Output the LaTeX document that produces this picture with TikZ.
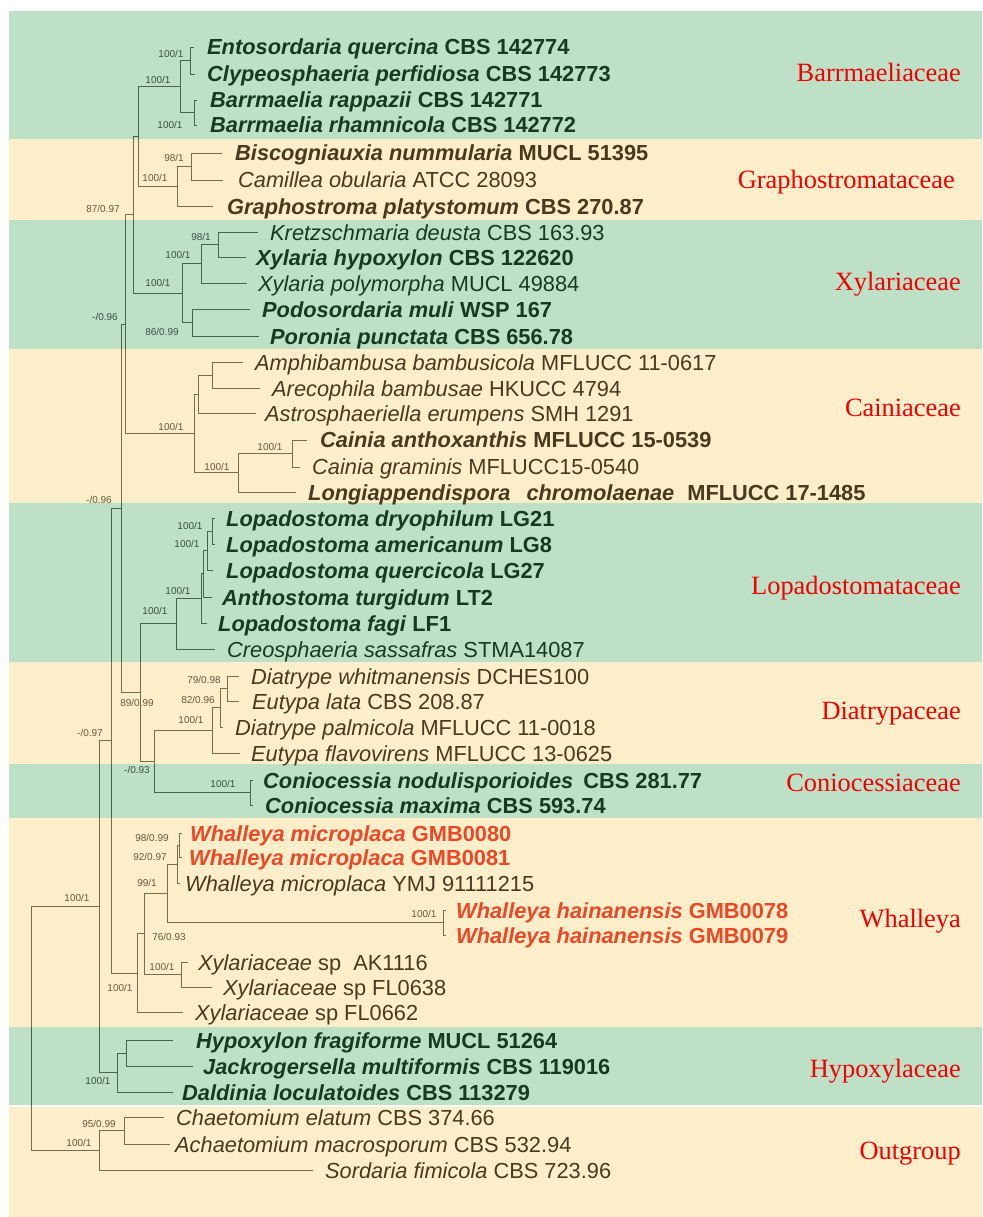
\documentclass[tikz,border=0pt]{standalone}
\usepackage{fontspec}
\setmainfont{Liberation Sans}
\newfontfamily\famfont{Liberation Serif}
\definecolor{bandgreen}{RGB}{190,224,198}
\definecolor{bandyellow}{RGB}{254,238,202}
\definecolor{linegreen}{RGB}{70,100,78}
\definecolor{lineyellow}{RGB}{125,108,75}
\definecolor{txtgreen}{RGB}{22,58,32}
\definecolor{txtyellow}{RGB}{72,58,28}
\definecolor{supgreen}{RGB}{55,80,62}
\definecolor{supyellow}{RGB}{100,88,62}
\definecolor{newred}{RGB}{236,72,38}
\definecolor{famred}{RGB}{240,0,0}
\newcommand{\bnm}[2]{\textbf{\textit{#1} #2}}
\newcommand{\rnm}[2]{\textit{#1} #2}
\newcommand{\edgelist}{n1/e1,n1/e2,n2/e3,n2/e4,nBarr/n1,nBarr/n2,n3/e5,n3/e6,nGraph/n3,nGraph/e7,nBG/nBarr,nBG/nGraph,
n4/e8,n4/e9,n5/n4,n5/e10,n6/e11,n6/e12,nXyl/n5,nXyl/n6,nA/nBG,nA/nXyl,
n7/e13,n7/e14,n8/n7,n8/e15,n9/e16,n9/e17,n10/n9,n10/e18,nCain/n8,nCain/n10,nB/nA,nB/nCain,
lp5/e19,lp5/e20,lp4/lp5,lp4/e21,lp3/lp4,lp3/e22,lp2/lp3,lp2/e23,lp1/lp2,lp1/e24,
d1/e25,d1/e26,d2/d1,d2/e27,d3/d2,d3/e28,c1/e29,c1/e30,nE/d3,nE/c1,nD/lp1,nD/nE,nC/nB,nC/nD,
w1/e31,w1/e32,w2/w1,w2/e33,h1/e34,h1/e35,w3/w2,w3/h1,x1/e36,x1/e37,w4/w3,w4/x1,w5/w4,w5/e38,nF/nC,nF/w5,
hy1/e39,hy1/e40,hy2/hy1,hy2/e41,nG/nF,nG/hy2,
o1/e42,o1/e43,o2/o1,o2/e44,root/nG,root/o2}
\begin{document}
\begin{tikzpicture}[x=1pt,y=-1pt,
  taxon/.style={anchor=base west, inner sep=0pt, font=\fontsize{21.8}{26}\selectfont},
  taxG/.style={taxon, text=txtgreen},
  taxY/.style={taxon, text=txtyellow},
  taxR/.style={taxon, text=newred},
  sup/.style={inner sep=0pt, font=\fontsize{10}{12}\selectfont},
  supG/.style={sup, text=supgreen},
  supY/.style={sup, text=supyellow},
  fam/.style={anchor=base east, inner sep=0pt, text=famred, font=\famfont\fontsize{26.4}{30}\selectfont},
  edge/.style={line width=0.9pt}]
\useasboundingbox (0,0) rectangle (982,1217);
\fill[white] (0,0) rectangle (982,1217);
% bands
\fill[bandgreen]  (9,11)   rectangle (982,139);
\fill[bandyellow] (9,139)  rectangle (982,220);
\fill[bandgreen]  (9,220)  rectangle (982,349);
\fill[bandyellow] (9,349)  rectangle (982,503);
\fill[bandgreen]  (9,503)  rectangle (982,662);
\fill[bandyellow] (9,662)  rectangle (982,764);
\fill[bandgreen]  (9,764)  rectangle (982,818);
\fill[bandyellow] (9,818)  rectangle (982,1027);
\fill[bandgreen]  (9,1027) rectangle (982,1106);
\fill[bandyellow] (9,1106) rectangle (982,1217);
\draw[white, line width=1.2pt] (9,1106) -- (982,1106);

% internal nodes
\coordinate (n1) at (190,60.5);
\coordinate (n2) at (194,112.5);
\coordinate (nBarr) at (180,86.5);
\coordinate (n3) at (191,166.5);
\coordinate (nGraph) at (177,186.25);
\coordinate (nBG) at (138,136.4);
\coordinate (n4) at (218,244.5);
\coordinate (n5) at (201,263.75);
\coordinate (n6) at (192,322.5);
\coordinate (nXyl) at (182,293.1);
\coordinate (nA) at (133,214.8);
\coordinate (n7) at (212,375);
\coordinate (n8) at (198,394);
\coordinate (n9) at (292,453.5);
\coordinate (n10) at (238,472.75);
\coordinate (nCain) at (194,433.4);
\coordinate (nB) at (125,324.1);
\coordinate (lp5) at (212,531);
\coordinate (lp4) at (207,550.5);
\coordinate (lp3) at (203,573.75);
\coordinate (lp2) at (201,598.4);
\coordinate (lp1) at (176,623.7);
\coordinate (d1) at (227,688.5);
\coordinate (d2) at (220,707.75);
\coordinate (d3) at (212,730.4);
\coordinate (c1) at (250,792.5);
\coordinate (nE) at (154,761.4);
\coordinate (nD) at (140,692.6);
\coordinate (nC) at (121,508.3);
\coordinate (w1) at (179,845);
\coordinate (w2) at (177,864);
\coordinate (h1) at (443,922.5);
\coordinate (w3) at (167,893.25);
\coordinate (x1) at (181,974.5);
\coordinate (w4) at (144,933.9);
\coordinate (w5) at (137,973);
\coordinate (nF) at (111,740.6);
\coordinate (hy1) at (126,1053);
\coordinate (hy2) at (117,1072.5);
\coordinate (nG) at (99,906.6);
\coordinate (o1) at (124,1130.5);
\coordinate (o2) at (99,1150.25);
\coordinate (root) at (31,1028.4);

% leaf ends
\coordinate (e1) at (194,47);   \coordinate (e2) at (195,74);
\coordinate (e3) at (197,100);  \coordinate (e4) at (197,125);
\coordinate (e5) at (222,153);  \coordinate (e6) at (223,180);
\coordinate (e7) at (213,206);  \coordinate (e8) at (258,232);
\coordinate (e9) at (246,257);  \coordinate (e10) at (247,283);
\coordinate (e11) at (250,309); \coordinate (e12) at (259,336);
\coordinate (e13) at (243,362); \coordinate (e14) at (260,388);
\coordinate (e15) at (256,413); \coordinate (e16) at (307,440);
\coordinate (e17) at (300,467); \coordinate (e18) at (296,492);
\coordinate (e19) at (215,518); \coordinate (e20) at (215,544);
\coordinate (e21) at (213,570); \coordinate (e22) at (212,597);
\coordinate (e23) at (207,623); \coordinate (e24) at (215,649);
\coordinate (e25) at (239,676); \coordinate (e26) at (239,701);
\coordinate (e27) at (223,727); \coordinate (e28) at (240,753);
\coordinate (e29) at (253,780); \coordinate (e30) at (253,805);
\coordinate (e31) at (182,833); \coordinate (e32) at (182,857);
\coordinate (e33) at (180,883); \coordinate (e34) at (446,910);
\coordinate (e35) at (446,935); \coordinate (e36) at (188,962);
\coordinate (e37) at (212,987); \coordinate (e38) at (183,1012);
\coordinate (e39) at (173,1040); \coordinate (e40) at (193,1066);
\coordinate (e41) at (173,1092); \coordinate (e42) at (164,1117);
\coordinate (e43) at (170,1144); \coordinate (e44) at (313,1170);

% tree edges, coloured by band
\begin{scope}
  \clip (9,11) rectangle (982,139) (9,220) rectangle (982,349) (9,503) rectangle (982,662)
        (9,764) rectangle (982,818) (9,1027) rectangle (982,1106);
  \foreach \p/\c in \edgelist { \draw[edge, linegreen] (\p) |- (\c); }
\end{scope}
\begin{scope}
  \clip (9,139) rectangle (982,220) (9,349) rectangle (982,503) (9,662) rectangle (982,764)
        (9,818) rectangle (982,1027) (9,1106) rectangle (982,1217);
  \foreach \p/\c in \edgelist { \draw[edge, lineyellow] (\p) |- (\c); }
\end{scope}

% taxa
\node[taxG] (t1) at (207,55) {\bnm{Entosordaria quercina}{CBS 142774}};
\node[taxG] (t2) at (207,82) {\bnm{Clypeosphaeria perfidiosa}{CBS 142773}};
\node[taxG] (t3) at (210,108) {\bnm{Barrmaelia rappazii}{CBS 142771}};
\node[taxG] (t4) at (210,133) {\bnm{Barrmaelia rhamnicola}{CBS 142772}};
\node[taxY] (t5) at (235,161) {\bnm{Biscogniauxia nummularia}{MUCL 51395}};
\node[taxY] (t6) at (238,188) {\rnm{Camillea obularia}{ATCC 28093}};
\node[taxY] (t7) at (227,214) {\bnm{Graphostroma platystomum}{CBS 270.87}};
\node[taxG] (t8) at (270,240) {\rnm{Kretzschmaria deusta}{CBS 163.93}};
\node[taxG] (t9) at (256,265) {\bnm{Xylaria hypoxylon}{CBS 122620}};
\node[taxG] (t10) at (258,291) {\rnm{Xylaria polymorpha}{MUCL 49884}};
\node[taxG] (t11) at (262,317) {\bnm{Podosordaria muli}{WSP 167}};
\node[taxG] (t12) at (270,344) {\bnm{Poronia punctata}{CBS 656.78}};
\node[taxY] (t13) at (255,370) {\rnm{Amphibambusa bambusicola}{MFLUCC 11-0617}};
\node[taxY] (t14) at (272,396) {\rnm{Arecophila bambusae}{HKUCC 4794}};
\node[taxY] (t15) at (265,421) {\rnm{Astrosphaeriella erumpens}{SMH 1291}};
\node[taxY] (t16) at (320,447) {\bnm{Cainia anthoxanthis}{MFLUCC 15-0539}};
\node[taxY] (t17) at (312,474) {\rnm{Cainia graminis}{MFLUCC15-0540}};
\node[taxY] (t18) at (308,500) {\textbf{\textit{Longiappendispora\hspace{10pt} chromolaenae}\hspace{7pt} MFLUCC 17-1485}};
\node[taxG] (t19) at (226,526) {\bnm{Lopadostoma dryophilum}{LG21}};
\node[taxG] (t20) at (226,552) {\bnm{Lopadostoma americanum}{LG8}};
\node[taxG] (t21) at (226,578) {\bnm{Lopadostoma quercicola}{LG27}};
\node[taxG] (t22) at (222,605) {\bnm{Anthostoma turgidum}{LT2}};
\node[taxG] (t23) at (218,631) {\bnm{Lopadostoma fagi}{LF1}};
\node[taxG] (t24) at (227,657) {\rnm{Creosphaeria sassafras}{STMA14087}};
\node[taxY] (t25) at (251,684) {\rnm{Diatrype whitmanensis}{DCHES100}};
\node[taxY] (t26) at (252,709) {\rnm{Eutypa lata}{CBS 208.87}};
\node[taxY] (t27) at (235,735) {\rnm{Diatrype palmicola}{MFLUCC 11-0018}};
\node[taxY] (t28) at (251,761) {\rnm{Eutypa flavovirens}{MFLUCC 13-0625}};
\node[taxG] (t29) at (263,788) {\textbf{\textit{Coniocessia nodulisporioides}\hspace{4pt} CBS 281.77}};
\node[taxG] (t30) at (265,813) {\bnm{Coniocessia maxima}{CBS 593.74}};
\node[taxR] (t31) at (190,841) {\bnm{Whalleya microplaca}{GMB0080}};
\node[taxR] (t32) at (189,865) {\bnm{Whalleya microplaca}{GMB0081}};
\node[taxY] (t33) at (185,891) {\rnm{Whalleya microplaca}{YMJ 91111215}};
\node[taxR] (t34) at (456,918) {\bnm{Whalleya hainanensis}{GMB0078}};
\node[taxR] (t35) at (456,943) {\bnm{Whalleya hainanensis}{GMB0079}};
\node[taxY] (t36) at (198,970) {\rnm{Xylariaceae}{sp\ \ AK1116}};
\node[taxY] (t37) at (223,995) {\rnm{Xylariaceae}{sp FL0638}};
\node[taxY] (t38) at (195,1020) {\rnm{Xylariaceae}{sp FL0662}};
\node[taxG] (t39) at (196,1048) {\bnm{Hypoxylon fragiforme}{MUCL 51264}};
\node[taxG] (t40) at (203,1074) {\bnm{Jackrogersella multiformis}{CBS 119016}};
\node[taxG] (t41) at (182,1100) {\bnm{Daldinia loculatoides}{CBS 113279}};
\node[taxY] (t42) at (176,1125) {\rnm{Chaetomium elatum}{CBS 374.66}};
\node[taxY] (t43) at (175,1152) {\rnm{Achaetomium macrosporum}{CBS 532.94}};
\node[taxY] (t44) at (325,1178) {\rnm{Sordaria fimicola}{CBS 723.96}};

% support values
\node[supG] (s1) at (171,54) {100/1};
\node[supG] (s2) at (158,80) {100/1};
\node[supG] (s3) at (170,125) {100/1};
\node[supY] (s4) at (174,158) {98/1};
\node[supY] (s5) at (155,178) {100/1};
\node[supY] (s6) at (103,209) {87/0.97};
\node[supG] (s7) at (201,237) {98/1};
\node[supG] (s8) at (178,255) {100/1};
\node[supG] (s9) at (158,283) {100/1};
\node[supG] (s10) at (162,332) {86/0.99};
\node[supG] (s11) at (105,317) {-/0.96};
\node[supY] (s12) at (171,427) {100/1};
\node[supY] (s13) at (270,447) {100/1};
\node[supY] (s14) at (217,467) {100/1};
\node[supY] (s15) at (99,500) {-/0.96};
\node[supG] (s16) at (190,526) {100/1};
\node[supG] (s17) at (187,544) {100/1};
\node[supG] (s18) at (178,591) {100/1};
\node[supG] (s19) at (155,611) {100/1};
\node[supY] (s20) at (204,680) {79/0.98};
\node[supY] (s21) at (198,700) {82/0.96};
\node[supY] (s22) at (191,720) {100/1};
\node[supY] (s23) at (137,703) {89/0.99};
\node[supY] (s24) at (90,733) {-/0.97};
\node[supG] (s25) at (137,770) {-/0.93};
\node[supG] (s26) at (223,784) {100/1};
\node[supY] (s27) at (152,838) {98/0.99};
\node[supY] (s28) at (150,857) {92/0.97};
\node[supY] (s29) at (147,883) {99/1};
\node[supY] (s30) at (77,898) {100/1};
\node[supY] (s31) at (169,937) {76/0.93};
\node[supY] (s32) at (162,967) {100/1};
\node[supY] (s33) at (120,988) {100/1};
\node[supY] (s34) at (424,914) {100/1};
\node[supG] (s35) at (98,1081) {100/1};
\node[supY] (s36) at (99,1124) {95/0.99};
\node[supY] (s37) at (79,1143) {100/1};

% family labels
\node[fam] (f1) at (961,82) {Barrmaeliaceae};
\node[fam] (f2) at (955,189) {Graphostromataceae};
\node[fam] (f3) at (961,290) {Xylariaceae};
\node[fam] (f4) at (961,416) {Cainiaceae};
\node[fam] (f5) at (961,594) {Lopadostomataceae};
\node[fam] (f6) at (961,719) {Diatrypaceae};
\node[fam] (f7) at (961,791) {Coniocessiaceae};
\node[fam] (f8) at (961,927) {Whalleya};
\node[fam] (f9) at (961,1077) {Hypoxylaceae};
\node[fam] (f10) at (961,1159) {Outgroup};
\end{tikzpicture}
\end{document}
